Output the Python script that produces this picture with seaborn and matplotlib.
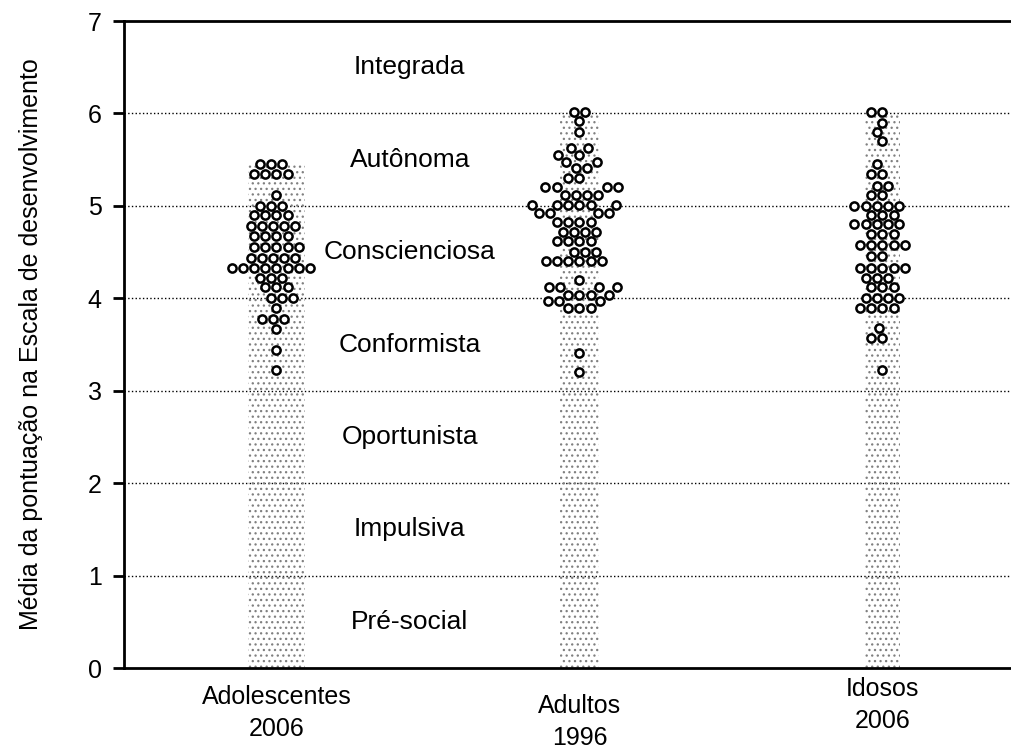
import numpy as np
import pandas as pd
import seaborn as sns
import matplotlib.pyplot as plt
from matplotlib.transforms import ScaledTranslation

sns.set_theme(style='white')
plt.rcParams['font.family'] = ['Liberation Sans', 'DejaVu Sans']
plt.rcParams['hatch.linewidth'] = 0.9
for key in ['text.color', 'axes.labelcolor', 'xtick.color', 'ytick.color']:
    plt.rcParams[key] = 'black'

# ---------------- data ----------------
categories = ['Adolescentes\n2006', 'Adultos\n1996', 'Idosos\n2006']

adolescentes = [5.45, 5.45, 5.45,
                5.35, 5.35, 5.35, 5.35,
                5.12,
                5.0, 5.0, 5.0,
                4.9, 4.9, 4.9, 4.9,
                4.78, 4.78, 4.78, 4.78, 4.78,
                4.67, 4.67, 4.67, 4.67,
                4.55, 4.55, 4.55, 4.55, 4.55,
                4.44, 4.44, 4.44, 4.44, 4.44,
                4.33, 4.33, 4.33, 4.33, 4.33, 4.33, 4.33, 4.33,
                4.22, 4.22, 4.22,
                4.12, 4.12, 4.12,
                4.0, 4.0, 4.0,
                3.9,
                3.78, 3.78, 3.78,
                3.67,
                3.44,
                3.22]

adultos = [6.02, 6.02,
           5.92,
           5.8,
           5.63, 5.63,
           5.55, 5.55,
           5.47, 5.47,
           5.41, 5.41,
           5.3, 5.3,
           5.2, 5.2, 5.2, 5.2,
           5.12, 5.12, 5.12, 5.12,
           5.01, 5.01, 5.01, 5.01, 5.01, 5.01,
           4.92, 4.92, 4.92, 4.92,
           4.83, 4.83, 4.83, 4.83,
           4.72, 4.72, 4.72, 4.72,
           4.62, 4.62, 4.62, 4.62,
           4.5, 4.5, 4.5,
           4.4, 4.4, 4.4, 4.4, 4.4, 4.4,
           4.2,
           4.12, 4.12, 4.12, 4.12,
           4.04, 4.04, 4.04, 4.04,
           3.97, 3.97, 3.97,
           3.9, 3.9, 3.9,
           3.41,
           3.2]

idosos = [6.02, 6.02,
          5.9,
          5.8,
          5.7,
          5.45,
          5.35, 5.35,
          5.22, 5.22,
          5.12, 5.12,
          5.0, 5.0, 5.0, 5.0, 5.0,
          4.9, 4.9, 4.9,
          4.8, 4.8, 4.8, 4.8, 4.8,
          4.7, 4.7, 4.7,
          4.58, 4.58, 4.58, 4.58, 4.58,
          4.46, 4.46,
          4.33, 4.33, 4.33, 4.33, 4.33,
          4.22, 4.22, 4.22,
          4.12, 4.12, 4.12,
          4.0, 4.0, 4.0, 4.0,
          3.9, 3.9, 3.9, 3.9,
          3.68,
          3.57, 3.57,
          3.22]

stage_labels = ['Pré-social', 'Impulsiva', 'Oportunista', 'Conformista',
                'Conscienciosa', 'Autônoma', 'Integrada']
y_ticks = [0, 1, 2, 3, 4, 5, 6, 7]
y_label = 'Média da pontuação na Escala de desenvolvimento'

df = pd.DataFrame({
    'grupo': [categories[0]] * len(adolescentes)
             + [categories[1]] * len(adultos)
             + [categories[2]] * len(idosos),
    'valor': adolescentes + adultos + idosos,
})

# ---------------- figure ----------------
fig = plt.figure(figsize=(10.11, 7.52), dpi=100)
ax = fig.add_axes([0.1227, 0.1117, 0.885, 0.8603])

# dotted background columns
col_widths = [0.19, 0.13, 0.115]
col_heights = df.groupby('grupo', sort=False)['valor'].max().reindex(categories).values
ax.bar(np.arange(len(categories)), col_heights, width=col_widths,
       color='none', edgecolor='#808080', linewidth=0, hatch='...', zorder=1)

sns.swarmplot(data=df, x='grupo', y='valor', order=categories, ax=ax,
              color='white', edgecolor='black', linewidth=1.8, size=5.9,
              zorder=3)

ax.set_xlim(-0.503, 2.45)
ax.set_ylim(0, 7)
ax.set_yticks(y_ticks)
ax.set_yticklabels([str(t) for t in y_ticks], fontsize=18)
ax.set_xticks(range(len(categories)))
ax.set_xticklabels(categories, fontsize=18, linespacing=1.45)
ax.tick_params(axis='x', length=0, pad=12)
ax.tick_params(axis='y', length=8, width=2, color='black', pad=8, left=True)

# small vertical offsets of the category labels as in the original
for lab, dy in zip(ax.get_xticklabels(), [0, -9, 8]):
    lab.set_transform(lab.get_transform() + ScaledTranslation(0, dy / 100, fig.dpi_scale_trans))

ax.set_xlabel('')
ax.set_ylabel(y_label, fontsize=18, labelpad=32)

for yv in y_ticks[1:-1]:
    ax.axhline(yv, color='black', linestyle=':', linewidth=1.0, zorder=0.5)

for i, lab in enumerate(stage_labels):
    ax.text(0.44, i + 0.5, lab, ha='center', va='center', fontsize=19,
            color='black', zorder=4)

for side in ['top', 'left', 'bottom']:
    ax.spines[side].set_visible(True)
    ax.spines[side].set_color('black')
    ax.spines[side].set_linewidth(2)
ax.spines['right'].set_visible(False)

fig.savefig('out.png', dpi=100)
